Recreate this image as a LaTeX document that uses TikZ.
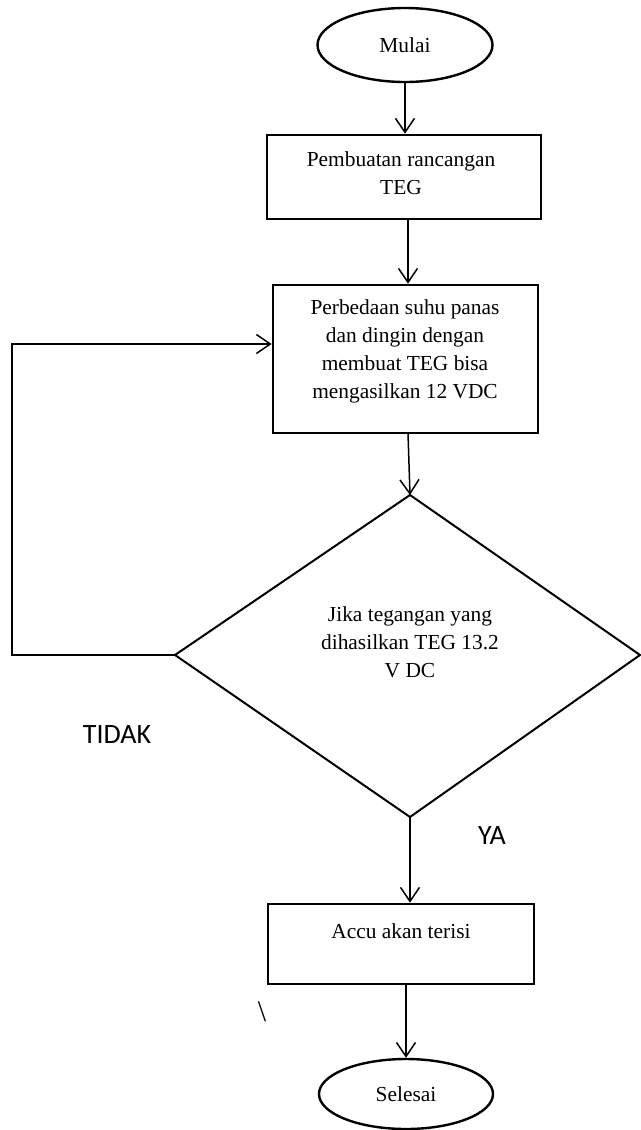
\documentclass[tikz,border=0pt]{standalone}
\usepackage{fontspec}
\setmainfont{Liberation Serif}
\newfontfamily\labelfont{Carlito}
\usetikzlibrary{shapes.geometric,arrows.meta}
\tikzset{
  procbox/.style={draw, line width=2.6pt, rectangle, inner sep=0pt},
  term/.style={draw, line width=2.4pt, ellipse, inner sep=0pt, font=\fontsize{21.4}{28}\selectfont},
  txt/.style={align=center, inner sep=0pt, font=\fontsize{21.4}{28}\selectfont},
  arr/.style={line width=1.5pt, -{Straight Barb[length=14pt,width=19pt]}},
  lbl/.style={inner sep=0pt, font=\labelfont\fontsize{28}{30}\selectfont},
}
\begin{document}
\begin{tikzpicture}[x=1pt,y=-1pt]
\useasboundingbox (0,0) rectangle (640,1130);
% terminals
\node[term, minimum width=175, minimum height=74] (mulai) at (405,45) {Mulai};
\node[term, minimum width=174, minimum height=70] (sel) at (406,1094) {Selesai};
% process boxes
\node[procbox, minimum width=274, minimum height=84] (b1) at (404,177) {};
\node[txt] (t1) at (401,173.5) {Pembuatan rancangan\\TEG};
\node[procbox, minimum width=265, minimum height=148] (b2) at (405.5,359) {};
\node[txt] (t2) at (405,351) {Perbedaan suhu panas\\dan dingin dengan\\membuat TEG bisa\\mengasilkan 12 VDC};
\node[procbox, minimum width=266, minimum height=80] (b3) at (401,944) {};
\node[txt] (t3) at (401,931) {Accu akan terisi};
% decision
\coordinate (dT) at (410,495);
\coordinate (dL) at (175,655);
\coordinate (dR) at (640,655);
\coordinate (dB) at (410,817);
\draw[line width=2pt, line join=miter] (dT) -- (dR) -- (dB) -- (dL) -- cycle;
\node[txt] (td) at (410,642) {Jika tegangan yang\\dihasilkan TEG 13.2\\V DC};
% connectors
\coordinate (a2s) at (408,219);
\coordinate (a3s) at (408,433);
\coordinate (fb) at (12,655);
\draw[arr] (mulai.south) -- (mulai.south |- b1.north);
\draw[arr] (a2s) -- (a2s |- b2.north);
\draw[arr] (a3s) -- (dT);
\draw[arr] (dL) -- (fb) |- ([yshift=15pt]b2.west);
\draw[arr] (dB) -- (dB |- b3.north);
\draw[arr] (sel.north |- b3.south) -- (sel.north);
% labels
\node[lbl] (tidak) at (117,735) {TIDAK};
\node[lbl] (ya) at (492,836) {YA};
\node[inner sep=0pt, font=\fontsize{30}{32}\selectfont] (bs) at (262,1012) {\textbackslash};
\end{tikzpicture}
\end{document}
